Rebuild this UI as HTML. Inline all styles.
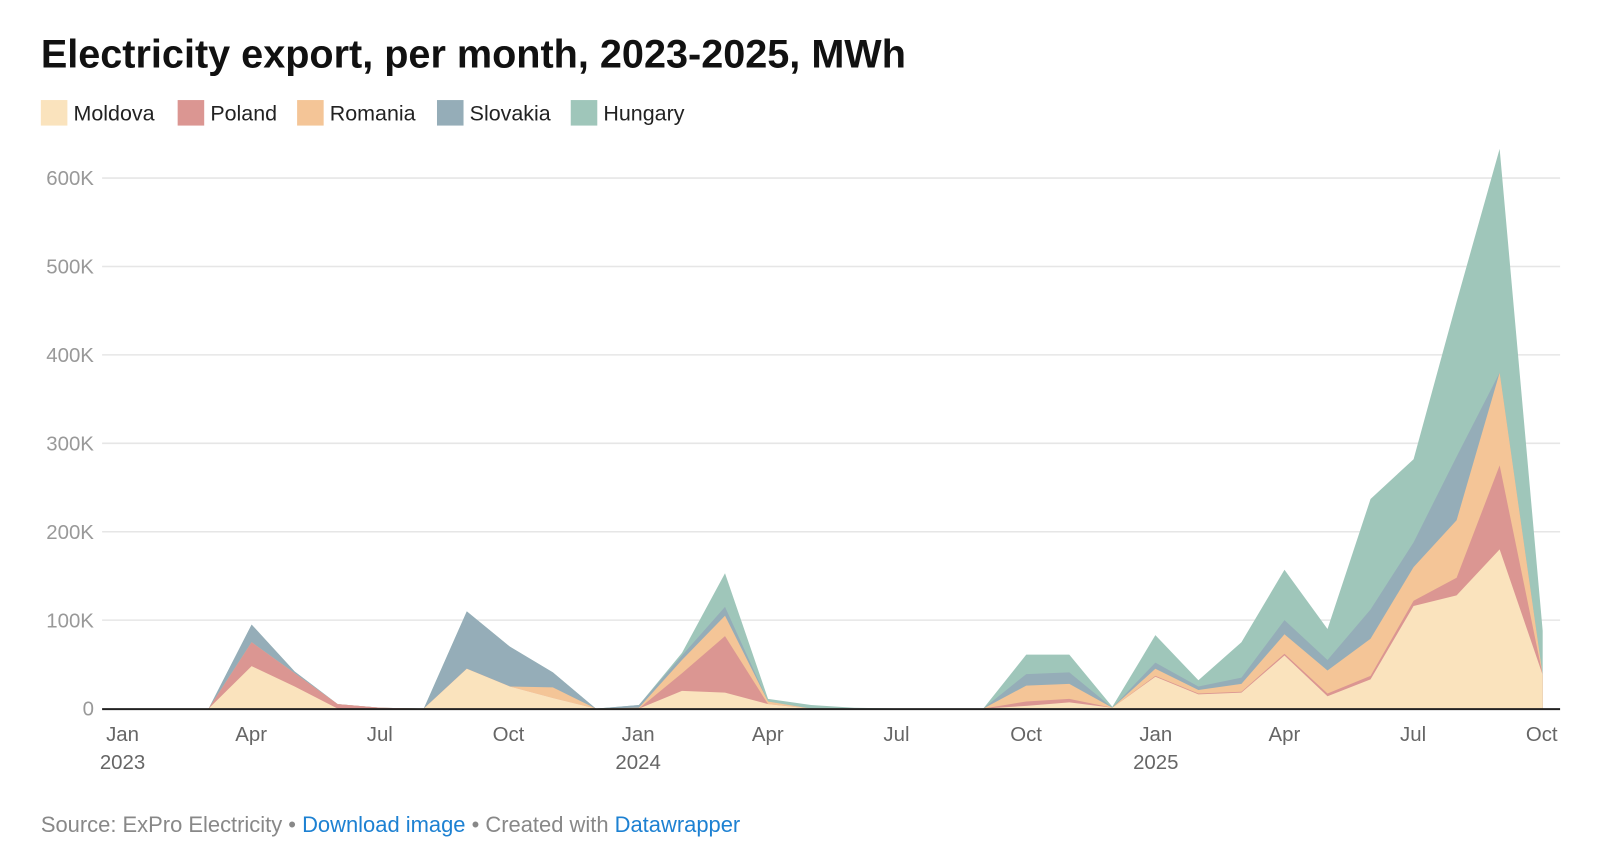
<!DOCTYPE html>
<html><head><meta charset="utf-8"><style>
body{margin:0;background:#fff;width:1600px;height:855px;overflow:hidden;font-family:"Liberation Sans",sans-serif}
</style></head><body>
<svg width="1600" height="855" xmlns="http://www.w3.org/2000/svg" style="position:absolute;left:0;top:0">
<g transform="scale(1.021)">
<text x="40" y="66" font-size="38.8" font-weight="bold" fill="#111" font-family="Liberation Sans">Electricity export, per month, 2023-2025, MWh</text>
<g font-size="21" fill="#222" font-family="Liberation Sans">
<rect x="40" y="98" width="26" height="25" fill="#fae3bd"/><text x="72" y="118">Moldova</text>
<rect x="174" y="98" width="26" height="25" fill="#db9692"/><text x="206" y="118">Poland</text>
<rect x="291" y="98" width="26" height="25" fill="#f4c597"/><text x="323" y="118">Romania</text>
<rect x="428" y="98" width="26" height="25" fill="#95adb8"/><text x="460" y="118">Slovakia</text>
<rect x="559" y="98" width="26" height="25" fill="#9fc6ba"/><text x="591" y="118">Hungary</text>
</g>
<g id="grid"></g>
<g id="areas"></g>
<line x1="100" y1="694.5" x2="1528" y2="694.5" stroke="#222" stroke-width="2"/>
<g font-size="20" fill="#666" font-family="Liberation Sans" text-anchor="middle">
<text x="120" y="726">Jan</text><text x="120" y="753">2023</text>
<text x="246" y="726">Apr</text><text x="372" y="726">Jul</text><text x="498" y="726">Oct</text>
<text x="625" y="726">Jan</text><text x="625" y="753">2024</text>
<text x="752" y="726">Apr</text><text x="878" y="726">Jul</text><text x="1005" y="726">Oct</text>
<text x="1132" y="726">Jan</text><text x="1132" y="753">2025</text>
<text x="1258" y="726">Apr</text><text x="1384" y="726">Jul</text><text x="1510" y="726">Oct</text>
</g>
<text x="40" y="815" font-size="21.5" fill="#888" font-family="Liberation Sans">Source: ExPro Electricity • <tspan fill="#1d81d2">Download image</tspan> • Created with <tspan fill="#1d81d2">Datawrapper</tspan></text>
</g>
</svg>
<script>
var ns="http://www.w3.org/2000/svg";
var g=document.getElementById("grid");
for(var i=0;i<=6;i++){var y=694-i*86.6;
 if(i>0){var l=document.createElementNS(ns,"line");l.setAttribute("x1",100);l.setAttribute("x2",1528);l.setAttribute("y1",y);l.setAttribute("y2",y);l.setAttribute("stroke","#e6e6e6");l.setAttribute("stroke-width","1.5");g.appendChild(l);}
 var t=document.createElementNS(ns,"text");t.setAttribute("x",92);t.setAttribute("y",y+7);t.setAttribute("text-anchor","end");t.setAttribute("font-size","20");t.setAttribute("fill","#999");t.textContent=i==0?"0":(i*100)+"K";g.appendChild(t);}
var d={
3:[48,27,0,20,0],4:[25,15,0,2,0],5:[0,5,0,0,0],6:[0,1,0,0,0],
8:[45,0,0,65,0],9:[25,0,0,45,0],10:[12,0,12,17,0],
12:[0,0,1,3,0],13:[20,20,15,5,3],14:[18,64,23,10,38],15:[5,0,3,0,3],16:[0,0,0,0,4],17:[0,0,0,0,1],
21:[3,5,18,13,22],22:[7,4,17,13,20],23:[1,0,0,0,1],
24:[36,1,8,7,31],25:[16,1,4,4,7],26:[18,1,9,7,40],27:[60,2,22,16,57],28:[14,3,26,12,35],
29:[33,4,42,33,125],30:[116,6,38,28,94],31:[128,20,65,72,175],32:[180,95,105,0,253],33:[38,0,0,0,50]};
var cols=["#fae3bd","#db9692","#f4c597","#95adb8","#9fc6ba"];
var a=document.getElementById("areas");
function X(m){return 120+42.15*m}function Y(v){return 694-v*0.866}
var cum=[];for(var m=0;m<=33;m++){var r=d[m]||[0,0,0,0,0],c=[0],s=0;for(var k=0;k<5;k++){s+=r[k];c.push(s);}cum.push(c);}
for(var k=4;k>=0;k--){var p="M"+X(0)+","+Y(0);for(var m=0;m<=33;m++)p+=" L"+X(m)+","+Y(cum[m][k+1]);p+=" L"+X(33)+","+Y(0)+" Z";
 var e=document.createElementNS(ns,"path");e.setAttribute("d",p);e.setAttribute("fill",cols[k]);a.appendChild(e);}
</script>
</body></html>
